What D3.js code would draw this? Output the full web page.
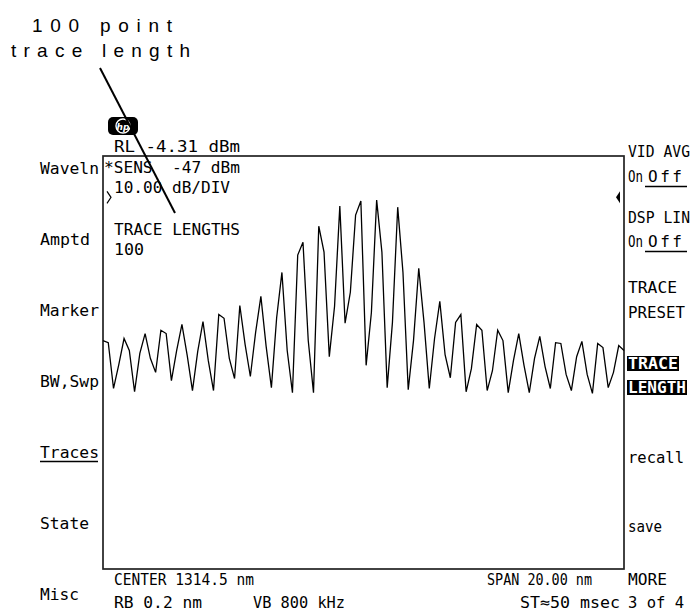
<!DOCTYPE html>
<html><head><meta charset="utf-8">
<script src="https://cdn.jsdelivr.net/npm/d3@7"></script>
<style>html,body{margin:0;padding:0;background:#fff;} svg{display:block;} text{white-space:pre;}</style>
</head><body>
<script>
// ---------------- data ----------------
const traceLevels = [
 -49.0,-49.5,-60.6,-54.8,-48.5,-51.4,-61.4,-52.1,-47.3,-53.3,
 -56.7,-46.5,-47.3,-58.7,-51.4,-45.1,-52.6,-61.1,-51.6,-44.4,
 -53.8,-61.1,-42.7,-43.6,-53.3,-58.2,-40.5,-49.9,-57.7,-47.0,
 -38.3,-50.4,-60.4,-43.4,-32.5,-51.4,-61.6,-28.3,-25.2,-49.0,
 -61.6,-21.3,-27.6,-52.9,-40.7,-16.4,-44.8,-37.3,-18.6,-15.2,
 -55.0,-42.2,-15.0,-27.6,-60.4,-44.6,-16.7,-32.5,-60.9,-49.0,
 -31.5,-44.6,-60.6,-48.5,-39.5,-52.4,-58.0,-44.6,-42.7,-61.4,
 -55.8,-45.1,-46.5,-61.1,-56.3,-46.5,-49.0,-61.6,-53.8,-47.3,
 -55.0,-61.6,-53.3,-48.0,-55.3,-60.6,-49.5,-49.7,-57.2,-61.1,
 -52.9,-49.2,-57.2,-61.8,-49.7,-50.7,-60.4,-56.7,-50.2,-51.4
];
const referenceLevel = -4.31;   // dBm
const dbPerDiv = 10;
const divisions = 10;
const calloutLines = ["100 point", "trace length"];
const topAnnotations = ["RL -4.31 dBm", "*SENS  -47 dBm", "10.00 dB/DIV"];
const activeFunction = ["TRACE LENGTHS", "100"];
const leftMenu = ["Waveln", "Amptd", "Marker", "BW,Swp", "Traces", "State", "Misc"];
const rightMenu = ["VID AVG", "On Off", "DSP LIN", "On Off", "TRACE", "PRESET", "TRACE", "LENGTH", "recall", "save", "MORE", "3 of 4"];
const bottomAnnotations = ["CENTER 1314.5 nm", "SPAN 20.00 nm", "RB 0.2 nm", "VB 800 kHz", "ST\u224850 msec"];

// ---------------- layout ----------------
const W = 695, H = 613;
const box = {left: 103, right: 624, top: 156, bottom: 569};
const MONO = "'DejaVu Sans Mono', monospace";

const svg = d3.select("body").append("svg").attr("width", W).attr("height", H);

const x = d3.scaleLinear().domain([0, traceLevels.length - 1]).range([box.left, box.right]);
const y = d3.scaleLinear().domain([referenceLevel - dbPerDiv * divisions, referenceLevel]).range([box.bottom, box.top]);

function label(str, px, py, w, opts = {}) {
  const t = svg.append("text").attr("x", px).attr("y", py).text(str)
    .attr("xml:space", "preserve")
    .attr("font-family", opts.family || MONO)
    .attr("font-size", opts.size || 16)
    .attr("fill", opts.fill || "#000");
  if (w) t.attr("textLength", w).attr("lengthAdjust", opts.adjust || "spacingAndGlyphs");
  if (opts.weight) t.attr("font-weight", opts.weight);
  return t;
}

// graticule box
svg.append("rect")
  .attr("x", box.left).attr("y", box.top)
  .attr("width", box.right - box.left).attr("height", box.bottom - box.top)
  .attr("fill", "none").attr("stroke", "#222").attr("stroke-width", 1.7);

// trace
svg.append("path")
  .datum(traceLevels)
  .attr("fill", "none").attr("stroke", "#000").attr("stroke-width", 1.3)
  .attr("d", d3.line().x((d, i) => x(i)).y(d => y(d)));

// reference-level markers
const refY = y(referenceLevel - dbPerDiv);
svg.append("path").attr("d", `M${box.left + 4},${refY - 6} L${box.left + 8},${refY} L${box.left + 4},${refY + 6}`)
  .attr("fill", "none").attr("stroke", "#000").attr("stroke-width", 1.2);
svg.append("path").attr("d", `M${box.right - 4},${refY - 6} L${box.right - 8},${refY} L${box.right - 4},${refY + 6} Z`)
  .attr("fill", "#000");

// HP logo
svg.append("rect").attr("x", 108).attr("y", 117).attr("width", 30).attr("height", 18).attr("rx", 5).attr("fill", "#000");
svg.append("circle").attr("cx", 123).attr("cy", 126).attr("r", 7).attr("fill", "none").attr("stroke", "#fff").attr("stroke-width", 1.4);
svg.append("text").attr("x", 123).attr("y", 129.5).attr("text-anchor", "middle")
  .attr("font-family", "'DejaVu Sans', sans-serif").attr("font-size", 9).attr("font-style", "italic").attr("font-weight", "bold")
  .attr("fill", "#fff").text("hp");

// top annotations
const topPos = [[114, 152, 126], [104, 173, 136], [114, 193, 116]];
topAnnotations.forEach((s, i) => label(s, topPos[i][0], topPos[i][1], topPos[i][2]));

// active function
const actPos = [[114, 235, 126], [114, 255, 30]];
activeFunction.forEach((s, i) => label(s, actPos[i][0], actPos[i][1], actPos[i][2]));

// left menu
const leftPos = [[173.5, 59], [244.5, 50], [315.5, 59], [386.5, 59], [457.5, 59], [528.5, 49], [599.5, 39]];
leftMenu.forEach((s, i) => label(s, 40, leftPos[i][0], leftPos[i][1]));
svg.append("line").attr("x1", 40).attr("x2", 98).attr("y1", 461.5).attr("y2", 461.5).attr("stroke", "#000").attr("stroke-width", 1.3);

// right menu
const rightPos = [[157, 62], [182, 57], [223, 62], [247, 57], [293, 49], [318, 57], [369, 50], [393, 58], [463, 56], [532, 34], [585, 39], [608, 56]];
rightMenu.forEach((s, i) => {
  const [py, w] = rightPos[i];
  const highlighted = (i === 6 || i === 7);
  if (highlighted) {
    svg.append("rect").attr("x", 627).attr("y", py - 13).attr("width", w + 2).attr("height", 15).attr("fill", "#000");
  }
  if (s === "On Off") {
    const [a, b] = s.split(" ");
    label(a, 628, py, 15);
    label(b, 648, py, 34, {adjust: "spacing"});
    svg.append("line").attr("x1", 645).attr("x2", 687).attr("y1", py + 4.5).attr("y2", py + 4.5)
      .attr("stroke", "#000").attr("stroke-width", 1.3);
  } else {
    label(s, 628, py, w, {fill: highlighted ? "#fff" : "#000", weight: highlighted ? "bold" : null});
  }
});

// bottom annotations
const botPos = [[114, 585, 140], [487, 585, 105], [114, 608, 88], [253, 608, 92], [520, 608, 100]];
bottomAnnotations.forEach((s, i) => label(s, botPos[i][0], botPos[i][1], botPos[i][2]));

// callout
label(calloutLines[0], 32, 32, 140, {family: "'Liberation Sans', Arial, sans-serif", size: 19, adjust: "spacing"});
label(calloutLines[1], 11, 57, 179, {family: "'Liberation Sans', Arial, sans-serif", size: 19, adjust: "spacing"});
svg.append("line").attr("x1", 100).attr("y1", 68).attr("x2", 175).attr("y2", 213)
  .attr("stroke", "#000").attr("stroke-width", 2);
</script>
</body></html>
